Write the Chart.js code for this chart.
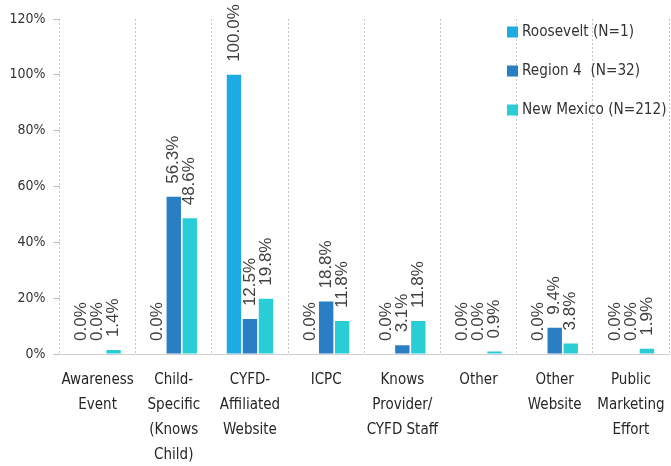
<!DOCTYPE html>
<html>
<head>
<meta charset="utf-8">
<script src="https://cdn.jsdelivr.net/npm/chart.js@4/dist/chart.umd.min.js"></script>
<style>
  html, body { margin: 0; padding: 0; background: #fff; }
  canvas { display: block; }
</style>
</head>
<body>
<canvas id="srcChart" width="671" height="466"></canvas>
<script>
// categories + series (percent)
const categories = [
  ['Awareness', 'Event'],
  ['Child-', 'Specific', '(Knows', 'Child)'],
  ['CYFD-', 'Affiliated', 'Website'],
  ['ICPC'],
  ['Knows', 'Provider/', 'CYFD Staff'],
  ['Other'],
  ['Other', 'Website'],
  ['Public', 'Marketing', 'Effort']
];
const seriesNames = ['Roosevelt (N=1)', 'Region 4  (N=32)', 'New Mexico (N=212)'];
const roosevelt = [0.0, 0.0, 100.0, 0.0, 0.0, 0.0, 0.0, 0.0];
const region4   = [0.0, 56.3, 12.5, 18.8, 3.1, 0.0, 9.4, 0.0];
const newMexico = [1.4, 48.6, 19.8, 11.8, 11.8, 0.9, 3.8, 1.9];
const yTicks = [0, 20, 40, 60, 80, 100, 120];

const colors = ['#1eaae2', '#2a7fc4', '#29cdd6'];
const narrow = '"DejaVu Sans Condensed", "DejaVu Sans", sans-serif';

// value labels, rotated, above each bar
const barLabels = {
  id: 'barLabels',
  afterDatasetsDraw(chart) {
    const ctx = chart.ctx;
    ctx.save();
    ctx.fillStyle = '#404040';
    ctx.font = '17px "Liberation Sans", sans-serif';
    ctx.textAlign = 'left';
    ctx.textBaseline = 'middle';
    chart.data.datasets.forEach((ds, i) => {
      chart.getDatasetMeta(i).data.forEach((bar, j) => {
        ctx.save();
        ctx.translate(bar.x, bar.y - 13);
        ctx.rotate(-Math.PI / 2);
        ctx.fillText(ds.data[j].toFixed(1) + '%', 0, 0);
        ctx.restore();
      });
    });
    ctx.restore();
  }
};

// legend inside plot, top right, stacked
const insideLegend = {
  id: 'insideLegend',
  afterDraw(chart) {
    const ctx = chart.ctx;
    const a = chart.chartArea;
    const x0 = a.right - 162, y0 = a.top + 13;
    ctx.save();
    ctx.font = '15.2px ' + narrow;
    ctx.textBaseline = 'middle';
    ctx.textAlign = 'left';
    chart.data.datasets.forEach((ds, i) => {
      const y = y0 + i * 39;
      ctx.fillStyle = ds.backgroundColor;
      ctx.fillRect(x0, y - 5.5, 11, 11);
      ctx.fillStyle = '#333';
      ctx.fillText(ds.label, x0 + 15, y);
    });
    ctx.restore();
  }
};

const ctx = document.getElementById('srcChart').getContext('2d');
new Chart(ctx, {
  type: 'bar',
  data: {
    labels: categories,
    datasets: [
      { label: seriesNames[0], data: roosevelt, backgroundColor: colors[0] },
      { label: seriesNames[1], data: region4,   backgroundColor: colors[1] },
      { label: seriesNames[2], data: newMexico, backgroundColor: colors[2] }
    ]
  },
  options: {
    responsive: false,
    animation: false,
    categoryPercentage: 0.63,
    barPercentage: 0.9,
    layout: { padding: { top: 19, right: 2, left: 0, bottom: 0 } },
    plugins: {
      legend: { display: false },
      tooltip: { enabled: false }
    },
    scales: {
      x: {
        grid: { display: true, offset: true, drawTicks: false, color: '#c4c4c4' },
        border: { display: true, color: '#cfcfcf', dash: [2, 2] },
        ticks: {
          color: '#262626',
          padding: 13.5,
          maxRotation: 0,
          autoSkip: false,
          font: { family: narrow, size: 15, lineHeight: 1.67 }
        },
        afterFit(scale) {
          scale.height = 112;
          scale.paddingLeft = 0;
          scale.paddingRight = 0;
        }
      },
      y: {
        min: 0,
        max: 120,
        afterBuildTicks(scale) { scale.ticks = yTicks.map(v => ({ value: v })); },
        grid: { drawOnChartArea: false, drawTicks: true, tickLength: 6, color: '#bfbfbf' },
        border: { display: false },
        ticks: {
          color: '#333',
          padding: 8,
          font: { family: narrow, size: 14 },
          callback: v => v + '%'
        },
        afterFit(scale) { scale.width = 59.5; }
      }
    }
  },
  plugins: [barLabels, insideLegend]
});
</script>
</body>
</html>
